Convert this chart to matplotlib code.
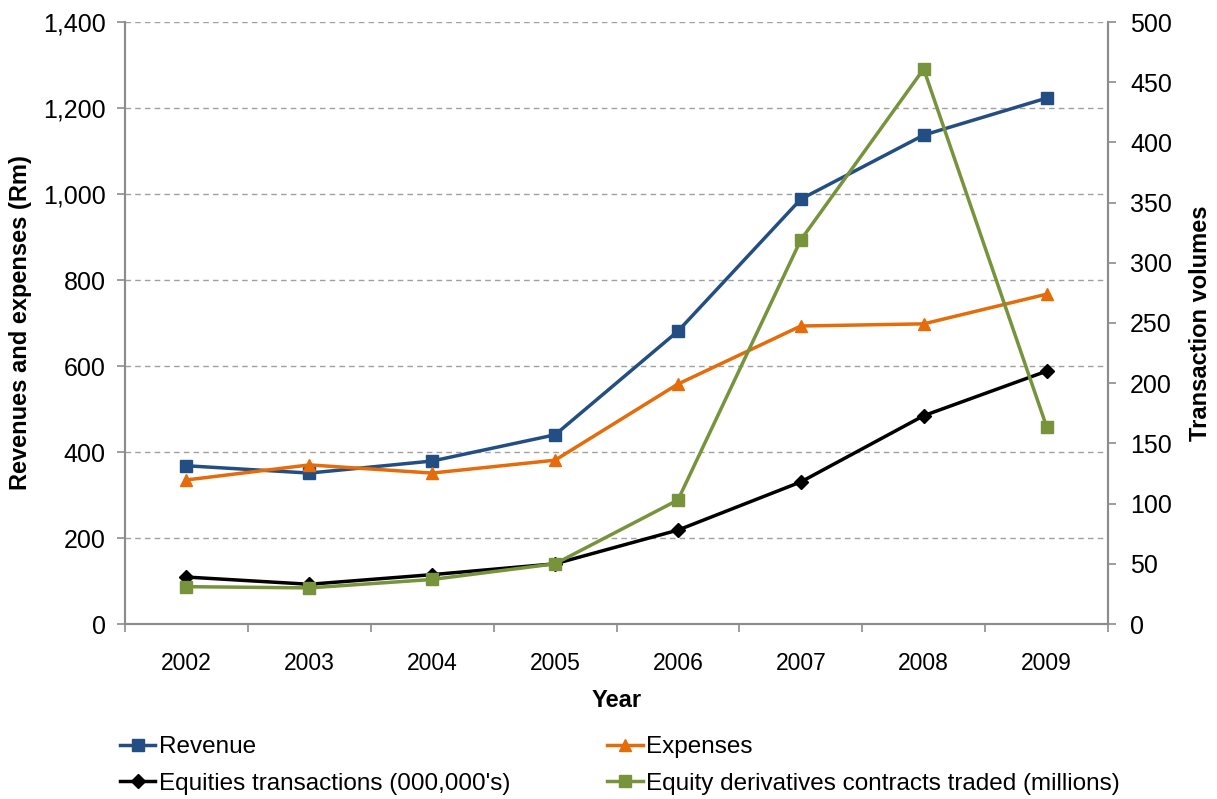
import numpy as np
import matplotlib
matplotlib.use('Agg')
import matplotlib.pyplot as plt
from matplotlib.ticker import FuncFormatter, FixedLocator

plt.rcParams['font.family'] = ['Liberation Sans', 'DejaVu Sans']

years = ['2002', '2003', '2004', '2005', '2006', '2007', '2008', '2009']
revenue = [368, 351, 379, 440, 681, 988, 1137, 1223]
expenses = [335, 370, 351, 381, 558, 693, 698, 767]
equities = [39, 33, 41, 50, 78, 118, 173, 210]
derivatives = [31, 30, 37, 50, 103, 319, 461, 164]

grey = '#8c8c8c'
x = np.arange(len(years))

fig = plt.figure(figsize=(12.17, 7.99), dpi=100)
ax = fig.add_axes([125/1217, 1 - 624/799, (1108-125)/1217, (624-22)/799])
ax2 = ax.twinx()

l1, = ax.plot(x, revenue, color='#234E83', lw=2.5, marker='s', ms=9, label='Revenue', zorder=3)
l2, = ax.plot(x, expenses, color='#E46C0A', lw=2.5, marker='^', ms=9, label='Expenses', zorder=3)
l3, = ax2.plot(x, equities, color='black', lw=2.5, marker='D', ms=7, label="Equities transactions (000,000's)", zorder=3)
l4, = ax2.plot(x, derivatives, color='#77933C', lw=2.5, marker='s', ms=9, label='Equity derivatives contracts traded (millions)', zorder=3)

ax.set_xlim(-0.5, len(years) - 0.5)
ax.set_ylim(0, 1400)
ax2.set_ylim(0, 500)
ax.set_yticks(np.arange(0, 1401, 200))
ax2.set_yticks(np.arange(0, 501, 50))
ax.yaxis.set_major_formatter(FuncFormatter(lambda v, p: f'{int(v):,}'))
ax.set_xticks(x)
ax.set_xticklabels(years)
ax.xaxis.set_minor_locator(FixedLocator(np.arange(-0.5, len(years), 1)))
ax.tick_params(axis='x', which='major', length=0, pad=20, labelsize=16.5)
ax.tick_params(axis='x', which='minor', length=6, color=grey, width=1.2)
ax.tick_params(axis='y', length=6, color=grey, width=1.2, labelsize=18, direction='out', pad=8)
ax2.tick_params(axis='y', length=6, color=grey, width=1.2, labelsize=18, direction='out', pad=10)

ax.yaxis.grid(True, linestyle=(0, (4, 3)), color='#a0a0a0', lw=1)
ax.set_axisbelow(True)

for a in (ax, ax2):
    a.spines['top'].set_visible(False)
    for s in ('left', 'right', 'bottom'):
        a.spines[s].set_color(grey)
        a.spines[s].set_linewidth(1.5)

ax.set_xlabel('Year', fontsize=17, fontweight='bold', labelpad=10)
ax.set_ylabel('Revenues and expenses (Rm)', fontsize=17, fontweight='bold', labelpad=8)
ax2.set_ylabel('Transaction volumes', fontsize=17, fontweight='bold', labelpad=12)

fig.legend(handles=[l1, l3, l2, l4], ncol=2, loc='upper left',
           bbox_to_anchor=(120/1217, 1 - 736/799), frameon=False, fontsize=17.5,
           handlelength=1.45, handletextpad=0.15, columnspacing=4.0, labelspacing=0.6,
           borderpad=0, borderaxespad=0)

fig.savefig('out.png', dpi=100)
